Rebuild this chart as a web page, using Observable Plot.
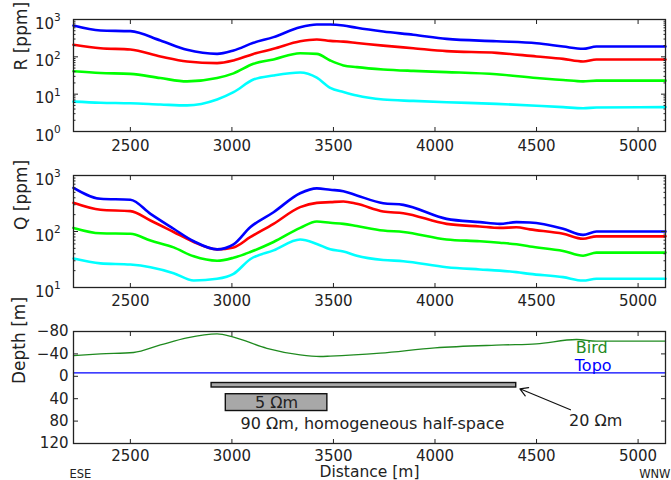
<!DOCTYPE html>
<html><head><meta charset="utf-8">
<script src="https://cdn.jsdelivr.net/npm/d3@7"></script>
<script src="https://cdn.jsdelivr.net/npm/@observablehq/plot@0.6"></script>
<style>
html,body{margin:0;padding:0;background:#fff;overflow:hidden}
#chart{width:671px;height:480px;overflow:hidden}
#chart svg{display:block}
</style></head><body><div id="chart"></div>
<script>
// ---------- data ----------
const xDomain = [2220, 5135];
const xTicks = [2500, 3000, 3500, 4000, 4500, 5000];

// R panel (ppm)
const rX     = [2220, 2353, 2500, 2648, 2779, 2927, 3008, 3106, 3205, 3336, 3418, 3484, 3549, 3615, 3745, 3893, 4057, 4303, 4500, 4631, 4729, 4795, 5135];
const rBlue  = [690, 507, 487, 273, 154, 120, 148, 237, 337, 623, 735, 735, 690, 598, 476, 390, 303, 262, 232, 189, 164, 189, 189];
const rRed   = [210, 170, 157, 102, 75, 68, 80, 120, 164, 262, 291, 268, 255, 235, 200, 170, 142, 128, 102, 88, 75, 85, 85];
const rGreen = [41, 37, 35, 27, 22, 27, 36, 65, 85, 125, 120, 80, 59, 53, 46, 42, 39, 34, 27, 24, 22, 23, 23];
const rCyan  = [6.3, 5.9, 5.7, 5.3, 5.0, 7.2, 11.3, 24.6, 31.6, 38, 27.6, 14.8, 11.5, 9.2, 7.2, 6.6, 6.1, 5.5, 4.9, 4.5, 4.2, 4.4, 4.5];
const rMajor = [1, 10, 100, 1000];
const rMinor = [2, 3, 4, 5, 6, 7, 8, 9, 20, 30, 40, 50, 60, 70, 80, 90, 200, 300, 400, 500, 600, 700, 800, 900];

// Q panel (ppm)
const qX     = [2220, 2353, 2500, 2599, 2713, 2812, 2927, 3008, 3090, 3205, 3336, 3418, 3484, 3549, 3615, 3745, 3844, 4057, 4221, 4319, 4401, 4467, 4631, 4729, 4795, 5135];
const qBlue  = [603, 384, 368, 207, 112, 67, 48, 59, 119, 221, 483, 590, 556, 525, 440, 320, 299, 168, 147, 137, 147, 145, 112, 87, 100, 100];
const qRed   = [325, 244, 231, 157, 98, 65, 48, 52, 79, 137, 272, 325, 334, 344, 312, 228, 212, 137, 123, 116, 119, 109, 91, 74, 82, 82];
const qGreen = [116, 93, 91, 69, 52, 36, 30, 34, 43, 65, 116, 151, 143, 137, 125, 104, 98, 72, 67, 63, 59, 54, 45, 37, 42, 42];
const qCyan  = [33, 27, 25.7, 23, 18, 13.3, 14.3, 17.5, 32, 46, 72, 60, 48, 44, 37, 31, 29.5, 23, 21, 20, 18.8, 17.5, 15.3, 13.3, 14.3, 14.3];
const qMajor = [10, 100, 1000];
const qMinor = [20, 30, 40, 50, 60, 70, 80, 90, 200, 300, 400, 500, 600, 700, 800, 900];

// Depth panel (m)
const birdX  = [2220, 2353, 2516, 2648, 2779, 2927, 3008, 3172, 3336, 3434, 3484, 3730, 4000, 4336, 4500, 4697, 4795, 5135];
const birdZ  = [-37, -40, -42.5, -56, -68.7, -75.8, -70, -50, -38.3, -35.4, -36, -41.3, -50.8, -56, -58, -65.7, -62.7, -62.7];
const topoX  = [2220, 5135];
const topoZ  = [-6, -6];
const depthTicks = [-80, -40, 0, 40, 80, 120];
const layers = [
  {x1: 2900, x2: 4400, z1: 12, z2: 20, label: "20 Ωm"},
  {x1: 2970, x2: 3470, z1: 32, z2: 62, label: "5 Ωm"}
];
const notes = [
  {x: 3692, z: 85.5, text: "90 Ωm, homogeneous half-space"},
  {x: 4791, z: 79, text: "20 Ωm"}
];
const arrows = [{x1: 4667, z1: 59.8, x2: 4418, z2: 22.3}];
const lineLabels = [
  {x: 4772, z: -51.4, text: "Bird"},
  {x: 4779, z: -19.3, text: "Topo"}
];

// ---------- helpers ----------
const rows = (xs, vs) => xs.map((x, i) => ({x, v: vs[i]}));
const FONT = "DejaVu Sans";
const INK = "#222";
const baseStyle = {fontFamily: FONT, fontSize: "15px", color: INK, background: "#fff", overflow: "visible"};

function xAxisMarks(pad) {
  return [
    Plot.axisX(xTicks, {anchor: "bottom", tickSize: -4, tickFormat: () => "", label: null}),
    Plot.axisX(xTicks, {anchor: "top", tickSize: -4, tickFormat: () => "", label: null}),
    Plot.axisX(xTicks, {anchor: "bottom", tickSize: 0, tickPadding: pad, tickFormat: d => String(d), label: null, fontSize: 15})
  ];
}
function yTickMarks(major, minor) {
  const m = [];
  for (const anchor of ["left", "right"]) {
    m.push(Plot.axisY(major, {anchor, tickSize: -5, tickFormat: () => "", label: null}));
    if (minor) m.push(Plot.axisY(minor, {anchor, tickSize: -2.5, tickFormat: () => "", label: null}));
  }
  return m;
}
function powLabels(major) {
  return [
    Plot.text(major, {y: d => d, text: () => "10", frameAnchor: "left", textAnchor: "end", dx: -19.5, dy: 4.2, fontSize: 15}),
    Plot.text(major, {y: d => d, text: d => String(Math.round(Math.log10(d))), frameAnchor: "left", textAnchor: "start", dx: -19.5, dy: -1.7, fontSize: 10.5})
  ];
}
function yTitle(text, dy, dx) {
  return Plot.text([text], {text: d => d, frameAnchor: "left", rotate: -90, dx, dy, fontSize: 17, style: "letter-spacing:1.5px"});
}
const seriesLines = (xs, list) => list.map(([vals, color]) =>
  Plot.line(rows(xs, vals), {x: "x", y: "v", stroke: color, strokeWidth: 2.6, curve: "monotone-x"}));

// ---------- panel 1: R ----------
const p1 = Plot.plot({
  width: 671, height: 160, marginTop: 19, marginBottom: 29, marginLeft: 73, marginRight: 6,
  x: {domain: xDomain}, y: {type: "log", domain: [1, 1000]},
  style: baseStyle,
  marks: [
    ...seriesLines(rX, [[rCyan, "#00ffff"], [rGreen, "#00ff00"], [rRed, "#ff0000"], [rBlue, "#0000ff"]]),
    Plot.frame({stroke: INK, strokeWidth: 1.3}),
    ...xAxisMarks(8.5),
    ...yTickMarks(rMajor, rMinor),
    ...powLabels(rMajor),
    yTitle("R [ppm]", -5, -51.5)
  ]
});

// ---------- panel 2: Q ----------
const p2 = Plot.plot({
  width: 671, height: 155, marginTop: 15, marginBottom: 28, marginLeft: 73, marginRight: 6,
  x: {domain: xDomain}, y: {type: "log", domain: [10, 1000]},
  style: baseStyle,
  marks: [
    ...seriesLines(qX, [[qCyan, "#00ffff"], [qGreen, "#00ff00"], [qRed, "#ff0000"], [qBlue, "#0000ff"]]),
    Plot.frame({stroke: INK, strokeWidth: 1.3}),
    ...xAxisMarks(8),
    ...yTickMarks(qMajor, qMinor),
    ...powLabels(qMajor),
    yTitle("Q [ppm]", -1.5, -52)
  ]
});

// ---------- panel 3: depth section ----------
const p3 = Plot.plot({
  width: 671, height: 165, marginTop: 16, marginBottom: 37, marginLeft: 73, marginRight: 6,
  x: {domain: xDomain}, y: {domain: [-80, 120], reverse: true},
  style: baseStyle,
  marks: [
    Plot.rect(layers, {x1: "x1", x2: "x2", y1: "z1", y2: "z2", fill: "#a8a8a8", stroke: "#111", strokeWidth: 1.4}),
    Plot.text(layers.slice(1), {x: d => (d.x1 + d.x2) / 2, y: d => (d.z1 + d.z2) / 2, text: "label", fontSize: 16}),
    Plot.text(notes, {x: "x", y: "z", text: "text", fontSize: 16}),
    Plot.arrow(arrows, {x1: "x1", y1: "z1", x2: "x2", y2: "z2", stroke: "#111", strokeWidth: 1.2, headLength: 11}),
    Plot.line(rows(topoX, topoZ), {x: "x", y: "v", stroke: "#0000ff", strokeWidth: 1.3}),
    Plot.line(rows(birdX, birdZ), {x: "x", y: "v", stroke: "#1f8a1f", strokeWidth: 1.3, curve: "monotone-x"}),
    Plot.text(lineLabels.slice(0, 1), {x: "x", y: "z", text: "text", fill: "#1f8a1f", fontSize: 16}),
    Plot.text(lineLabels.slice(1), {x: "x", y: "z", text: "text", fill: "#0000ff", fontSize: 16}),
    Plot.frame({stroke: INK, strokeWidth: 1.3}),
    ...xAxisMarks(6.5),
    Plot.axisY(depthTicks, {anchor: "left", tickSize: -5, tickFormat: () => "", label: null}),
    Plot.axisY(depthTicks, {anchor: "right", tickSize: -5, tickFormat: () => "", label: null}),
    Plot.axisY(depthTicks, {anchor: "left", tickSize: 0, tickPadding: 5, label: null, fontSize: 15,
      tickFormat: d => d < 0 ? "\u2212" + (-d) : String(d)}),
    yTitle("Depth [m]", -3.5, -53.5),
    Plot.text(["Distance [m]"], {text: d => d, frameAnchor: "bottom", lineAnchor: "bottom", dy: 33, fontSize: 15.5}),
    Plot.text(["ESE"], {text: d => d, frameAnchor: "bottom-left", textAnchor: "start", lineAnchor: "bottom", dx: -4, dy: 34, fontSize: 11.5}),
    Plot.text(["WNW"], {text: d => d, frameAnchor: "bottom-right", textAnchor: "end", lineAnchor: "bottom", dx: 5, dy: 34, fontSize: 11.5})
  ]
});

const host = document.getElementById("chart");
host.append(p1, p2, p3);
</script>
</body></html>
